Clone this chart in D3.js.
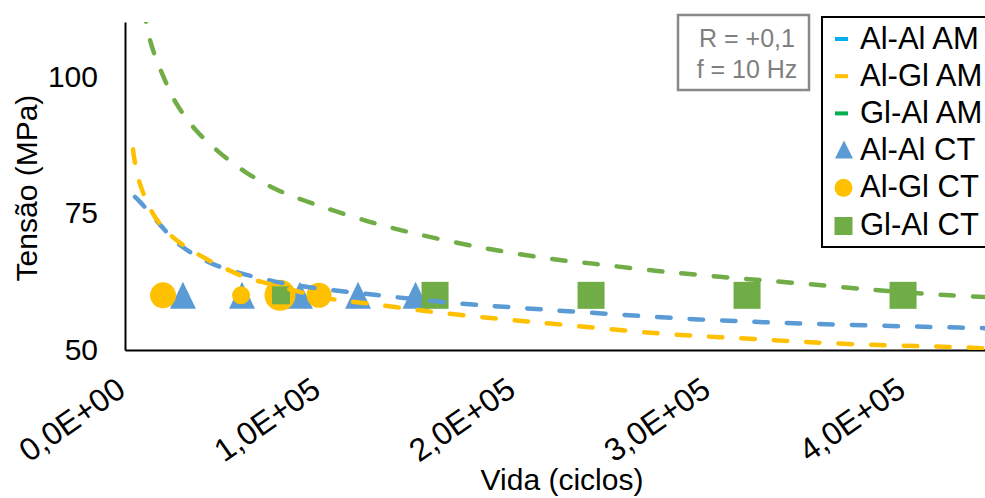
<!DOCTYPE html>
<html>
<head>
<meta charset="utf-8">
<script src="https://cdnjs.cloudflare.com/ajax/libs/d3/7.8.5/d3.min.js"></script>
<style>
  html, body { margin: 0; padding: 0; background: #fff; overflow: hidden; }
  svg { display: block; font-family: "Liberation Sans", Arial, sans-serif; }
</style>
</head>
<body>
<svg id="chart" width="985" height="498"></svg>
<script>
// ---------- DATA ----------
const xTickValues = [0, 100000, 200000, 300000, 400000];
const xTickLabels = ["0,0E+00", "1,0E+05", "2,0E+05", "3,0E+05", "4,0E+05"];
const yTickValues = [50, 75, 100];
const yTickLabels = ["50", "75", "100"];

// AM curves (Vida [ciclos], Tensão [MPa])
const alAlAM_N = [5100, 7700, 18500, 28200, 44600, 75900, 102600, 125600, 151000, 175000, 198500, 227000, 294000, 351000, 428000, 441000];
const alAlAM_S = [78.0, 77.1, 72.7, 69.2, 65.8, 62.6, 61.1, 60.2, 59.2, 58.4, 57.8, 57.1, 55.6, 54.8, 54.1, 54.0];

const alGlAM_N = [4100, 5100, 8700, 16400, 28200, 59000, 75000, 105000, 125000, 155000, 189000, 222000, 275000, 322600, 371000, 428000, 441000];
const alGlAM_S = [86.7, 84.3, 79.3, 73.8, 69.6, 63.7, 62.0, 59.4, 58.5, 57.1, 55.8, 54.7, 53.0, 52.0, 51.1, 50.5, 50.3];

const glAlAM_N = [9500, 13300, 19000, 26150, 36400, 48200, 62000, 76900, 92300, 125000, 150000, 185000, 220000, 240000, 272000, 305000, 339000, 391000, 423000, 441000];
const glAlAM_S = [112.5, 106.1, 100.6, 95.2, 90.2, 86.2, 82.5, 79.5, 77.3, 73.5, 71.2, 68.6, 66.6, 65.8, 64.5, 63.4, 62.4, 60.8, 60.0, 59.7];

// CT experimental points
const alAlCT_N = [29700, 60000, 89700, 119500, 149000];
const alAlCT_S = [60, 60, 60, 60, 60];
const alGlCT_N = [19500, 59500, 79500, 99500];
const alGlCT_S = [60, 60, 60, 60];
const glAlCT_N = [80000, 159000, 239000, 319000, 399000];
const glAlCT_S = [60, 60, 60, 60, 60];

const legendLabels = ["Al-Al AM", "Al-Gl AM", "Gl-Al AM", "Al-Al CT", "Al-Gl CT", "Gl-Al CT"];
const noteLines = ["R = +0,1", "f = 10 Hz"];

// ---------- STYLE ----------
const cBlue = "#5b9bd5", cYellow = "#ffc000", cGreen = "#70ad47";
const legLineColors = ["#00b0f0", "#ffc000", "#00b050"];
const circleDiam = [26, 18, 31, 25];
const squareSide = [18, 27, 27, 27, 27];
const triW = 26;

const svg = d3.select("#chart");
const x = d3.scaleLinear().domain([0, 500000]).range([125, 1100]);
const y = d3.scaleLinear().domain([50, 110]).range([350, 22]);

svg.append("defs").append("clipPath").attr("id", "plotclip")
  .append("rect").attr("x", 125).attr("y", 22).attr("width", 1000).attr("height", 328);

// ---------- AXES ----------
const xAxis = d3.axisBottom(x).tickValues(xTickValues)
  .tickFormat((d, i) => xTickLabels[i]).tickSize(0).tickSizeOuter(0);
const gx = svg.append("g").attr("transform", "translate(0,350)").call(xAxis);
gx.select(".domain").attr("stroke", "#000").attr("stroke-width", 2);
gx.selectAll(".tick text")
  .attr("x", 0).attr("y", 0).attr("dy", null)
  .attr("transform", "translate(2,44) rotate(-35)")
  .attr("text-anchor", "end")
  .attr("font-size", 32).attr("fill", "#000")
  .attr("font-family", "Liberation Sans, Arial, sans-serif");

const yAxis = d3.axisLeft(y).tickValues(yTickValues)
  .tickFormat((d, i) => yTickLabels[i]).tickSize(0).tickSizeOuter(0).tickPadding(27);
const gy = svg.append("g").attr("transform", "translate(125,0)").call(yAxis);
gy.select(".domain").attr("stroke", "#000").attr("stroke-width", 2);
gy.selectAll(".tick text").attr("font-size", 30).attr("fill", "#000")
  .attr("font-family", "Liberation Sans, Arial, sans-serif");

svg.append("text").attr("transform", "translate(37,188) rotate(-90)")
  .attr("text-anchor", "middle").attr("font-size", 30).attr("fill", "#000")
  .text("Tensão (MPa)");
svg.append("text").attr("x", 562).attr("y", 490)
  .attr("text-anchor", "middle").attr("font-size", 30).attr("fill", "#000")
  .text("Vida (ciclos)");

// ---------- MARKERS ----------
const mk = svg.append("g");
const tri = d3.zip(alAlCT_N, alAlCT_S);
mk.selectAll("path.tri").data(tri).join("path")
  .attr("d", d => {
    const cx = x(d[0]), cy = y(d[1]), h = 27;
    return `M${cx},${cy - h / 2}L${cx + triW / 2},${cy + h / 2}L${cx - triW / 2},${cy + h / 2}Z`;
  }).attr("fill", cBlue);
mk.selectAll("circle.ct").data(d3.zip(alGlCT_N, alGlCT_S)).join("circle")
  .attr("cx", d => x(d[0])).attr("cy", d => y(d[1]))
  .attr("r", (d, i) => circleDiam[i] / 2).attr("fill", cYellow);
mk.selectAll("rect.sq").data(d3.zip(glAlCT_N, glAlCT_S)).join("rect")
  .attr("x", (d, i) => x(d[0]) - squareSide[i] / 2)
  .attr("y", (d, i) => y(d[1]) - squareSide[i] / 2)
  .attr("width", (d, i) => squareSide[i]).attr("height", (d, i) => squareSide[i])
  .attr("fill", cGreen);

// ---------- AM CURVES ----------
const line = d3.line().x(d => x(d[0])).y(d => y(d[1])).curve(d3.curveCatmullRom);
const curves = [
  [d3.zip(alAlAM_N, alAlAM_S), cBlue],
  [d3.zip(alGlAM_N, alGlAM_S), cYellow],
  [d3.zip(glAlAM_N, glAlAM_S), cGreen]
];
const lg = svg.append("g").attr("clip-path", "url(#plotclip)");
curves.forEach(([pts, col]) => {
  lg.append("path").attr("d", line(pts)).attr("fill", "none")
    .attr("stroke", col).attr("stroke-width", 4.5)
    .attr("stroke-dasharray", "13.5,19").attr("stroke-linecap", "round");
});

// ---------- NOTE BOX ----------
svg.append("rect").attr("x", 678).attr("y", 15).attr("width", 131).attr("height", 75)
  .attr("fill", "#fff").attr("stroke", "#898989").attr("stroke-width", 2.5);
svg.selectAll("text.note").data(noteLines).join("text")
  .attr("x", 747).attr("y", (d, i) => 47 + i * 31)
  .attr("text-anchor", "middle").attr("font-size", 25).attr("fill", "#7f7f7f")
  .text(d => d);

// ---------- LEGEND ----------
const leg = svg.append("g");
leg.append("rect").attr("x", 822).attr("y", 17).attr("width", 300).attr("height", 230)
  .attr("fill", "#fff").attr("stroke", "#000").attr("stroke-width", 2);
const rowY = i => 38 + i * 37.2;
legendLabels.forEach((lab, i) => {
  const cy = rowY(i);
  if (i < 3) {
    leg.append("rect").attr("x", 835).attr("y", cy - 1).attr("width", 13).attr("height", 4)
      .attr("fill", legLineColors[i]);
  } else if (i === 3) {
    leg.append("path").attr("d", `M844,${cy - 9}L853,${cy + 9}L835,${cy + 9}Z`).attr("fill", cBlue);
  } else if (i === 4) {
    leg.append("circle").attr("cx", 843.5).attr("cy", cy + 1).attr("r", 9).attr("fill", cYellow);
  } else {
    leg.append("rect").attr("x", 834.5).attr("y", cy - 7).attr("width", 18).attr("height", 18).attr("fill", cGreen);
  }
  leg.append("text").attr("x", 860).attr("y", cy + 10.5).attr("font-size", 31).attr("fill", "#000").text(lab);
});
</script>
</body>
</html>
